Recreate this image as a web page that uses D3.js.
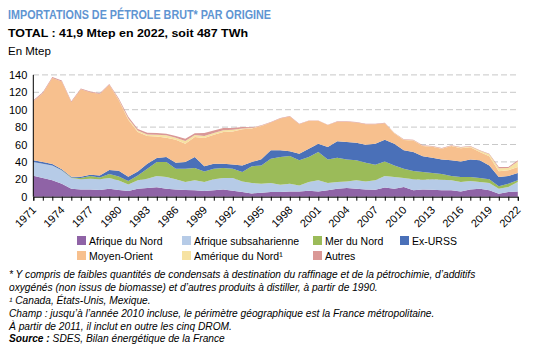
<!DOCTYPE html>
<meta charset="utf-8">
<style>
    body { margin: 0; background: #fff; }
    svg { font-family: "Liberation Sans", Arial, sans-serif; }
    .grid line { stroke: #c8c8c8; stroke-dasharray: 6,3; }
    .axis path, .axis line { stroke: #000; }
    .axis text { font-size: 11px; fill: #000; }
    .legend text { font-size: 10.5px; }
    .note { font-size: 10.2px; font-style: italic; }
</style>
<svg width="536" height="351"></svg>
<script src="https://d3js.org/d3.v7.min.js"></script>
<script>

    var years = [1971, 1972, 1973, 1974, 1975, 1976, 1977, 1978, 1979, 1980,
        1981, 1982, 1983, 1984, 1985, 1986, 1987, 1988, 1989, 1990,
        1991, 1992, 1993, 1994, 1995, 1996, 1997, 1998, 1999, 2000,
        2001, 2002, 2003, 2004, 2005, 2006, 2007, 2008, 2009, 2010,
        2011, 2012, 2013, 2014, 2015, 2016, 2017, 2018, 2019, 2020,
        2021, 2022];

    // Mtep
    var afriqueNord = [24, 21.5, 19, 15, 9, 8.4, 8.4, 7.7, 9.2, 7.7,
        6.5, 9.2, 10, 11, 9.2, 8.4, 7.7, 7.3, 6.5, 7.3,
        8.4, 6.9, 5.4, 3.8, 4.6, 5.4, 5.4, 6.1, 6.1, 6.9,
        6.1, 7.3, 9.2, 10, 9.2, 8.4, 8, 10.7, 9.2, 11.1,
        7.3, 8.4, 8, 7.3, 7.3, 6.1, 8.4, 9.2, 7.3, 3.4,
        5.4, 6.1];
    var afriqueSub = [16, 16.5, 17, 15, 12.5, 11.6, 12.3, 12.3, 12.3, 11,
        7.5, 9.6, 10.7, 12.8, 13.4, 11.6, 9.2, 11.5, 10.4, 12.7,
        13.1, 14.6, 12.2, 11.9, 10.4, 10.3, 8.4, 8.9, 6.9, 10,
        12.7, 8.4, 7.7, 7.6, 9.6, 9.2, 10.8, 13.1, 13.4, 10.4,
        12.7, 11.1, 12, 12.2, 11.5, 10.8, 9.6, 7.7, 8.4, 5.8,
        5.7, 10.8];
    var merNord = [0, 0, 0, 0.5, 0.5, 1.5, 3, 2, 4.5, 4.6,
        4, 5.7, 11.3, 16, 17.2, 12, 15.1, 14.2, 12.1, 12,
        11.5, 10.5, 10.8, 19.2, 21, 28, 31.8, 31.7, 28.8, 28.7,
        32.5, 27.2, 27.9, 25.3, 23, 21.4, 18, 16.8, 13.4, 10.5,
        9.5, 8.9, 7.2, 6.5, 5, 5.7, 4.6, 4.6, 4.3, 2.7,
        3.9, 1.9];
    var exUrss = [1.8, 2, 1.5, 1, 1, 1.5, 1.5, 2.5, 4.6, 6.6,
        5, 4.5, 6, 4.6, 5.8, 7, 8, 12.5, 6, 6,
        5, 5, 7.6, 4.9, 7, 9.6, 7.7, 5.4, 7.6, 9.6,
        9.6, 14.2, 18.8, 19.9, 20.2, 20.8, 24.2, 24.9, 25, 21.3,
        21.8, 18, 17.6, 16.9, 18, 18, 20.3, 20.3, 16, 10.7,
        8.8, 8.4];
    var moyenOrient = [68, 79, 99, 101, 85.6, 100.5, 94.8, 93.5, 98, 81,
        65.5, 45.3, 31.7, 24.9, 22.2, 26.5, 21, 23, 32.4, 33.3,
        36.4, 38, 41.4, 38.7, 38.2, 32, 36.6, 40.1, 34, 32,
        26.3, 25.2, 22.5, 23.3, 23.3, 23.6, 22.4, 19, 11.8, 11.8,
        13.4, 11.8, 12.6, 12.3, 16.4, 15.1, 13.8, 9.5, 10.4, 6.6,
        6.5, 6.9];
    var ameriqueNord = [0, 0, 0, 0, 0, 0, 0, 0, 0, 0.5,
        1.5, 1.9, 1.9, 2, 2.7, 2.3, 3, 2.5, 2.3, 1.9,
        1.9, 2, 1, 0.5, 0.3, 0, 0, 0, 0, 0,
        0, 0, 0, 0, 0, 0, 0, 0, 0.3, 0.3,
        0.3, 0.3, 0.3, 0.3, 0.3, 0.8, 1, 1.5, 2.5, 3.5,
        2.7, 6.5];
    var autres = [1, 1, 1, 1, 1, 1, 1, 1, 1, 1.5,
        2, 1.5, 2, 1.9, 1.9, 1.9, 2.7, 2, 3.5, 3,
        2.7, 2, 1.6, 0.7, 0.5, 0.5, 0.5, 0.5, 0.5, 0.5,
        0.5, 0.5, 0.5, 0.5, 0.5, 0.5, 0.5, 0.5, 0.5, 0.5,
        0.5, 0.5, 0.5, 0.5, 0.5, 0.5, 0.5, 0.5, 0.5, 1.4,
        1, 1.3];

    var seriesNames = ["Afrique du Nord", "Afrique subsaharienne", "Mer du Nord", "Ex-URSS",
        "Moyen-Orient", "Amérique du Nord¹", "Autres"];
    var seriesValues = [afriqueNord, afriqueSub, merNord, exUrss, moyenOrient, ameriqueNord, autres];
    var colors = ["#8f63a6", "#b6cbe7", "#9bbb59", "#4a70b8", "#f7c08e", "#f6e2a2", "#da9896"];
    var yTicks = [0, 20, 40, 60, 80, 100, 120, 140];

    var svg = d3.select("svg");

    // table for d3.stack
    var table = years.map(function (y, i) {
        var row = { year: y };
        seriesValues.forEach(function (s, k) { row[k] = s[i]; });
        return row;
    });
    var stack = d3.stack().keys(d3.range(seriesNames.length));
    var layers = stack(table);

    var x = d3.scaleLinear().domain([1971, 2022]).range([33.3, 517.8]);
    var y = d3.scaleLinear().domain([0, 140]).range([196.7, 74.9]);

    // titles
    svg.append("text").attr("x", 8).attr("y", 19.3)
        .attr("textLength", 263).attr("lengthAdjust", "spacingAndGlyphs")
        .style("font-size", "12px").style("font-weight", "bold").style("fill", "#5f95d2")
        .text("IMPORTATIONS DE PÉTROLE BRUT* PAR ORIGINE");
    svg.append("text").attr("x", 8).attr("y", 37.3)
        .attr("textLength", 240).attr("lengthAdjust", "spacingAndGlyphs")
        .style("font-size", "11.5px").style("font-weight", "bold")
        .text("TOTAL : 41,9 Mtep en 2022, soit 487 TWh");
    svg.append("text").attr("x", 8).attr("y", 55)
        .style("font-size", "11.5px")
        .text("En Mtep");

    // dashed grid
    svg.append("g").attr("class", "grid")
        .selectAll("line").data(yTicks.slice(1)).enter().append("line")
        .attr("x1", 33).attr("x2", 518)
        .attr("y1", function (d) { return y(d); })
        .attr("y2", function (d) { return y(d); });

    var area = d3.area()
        .x(function (d) { return x(d.data.year); })
        .y0(function (d) { return y(d[0]); })
        .y1(function (d) { return y(d[1]); });

    svg.append("g").selectAll("path").data(layers).enter().append("path")
        .attr("d", area)
        .attr("fill", function (d, i) { return colors[i]; });

    // y axis
    var yAxis = svg.append("g").attr("class", "axis")
        .attr("transform", "translate(33.3,0)")
        .call(d3.axisLeft(y).tickValues(yTicks).tickSize(0).tickPadding(6));
    yAxis.select(".domain").attr("d", "M0," + y(140) + "V" + y(0));

    // x axis
    var xAxis = svg.append("g").attr("class", "axis")
        .attr("transform", "translate(0," + y(0) + ")")
        .call(d3.axisBottom(x).tickValues(years).tickSizeOuter(0).tickSize(4)
            .tickFormat(function (d) { return (d - 1971) % 3 === 0 ? d : ""; }));
    xAxis.selectAll("text")
        .attr("text-anchor", "end")
        .attr("dy", null)
        .attr("y", 0)
        .attr("transform", "translate(3,14) rotate(-45)");

    // legend
    var legendPos = [[77, 236], [182, 236], [313, 236], [400, 236],
        [77, 251], [182, 251], [313, 251]];
    var legend = svg.append("g").attr("class", "legend")
        .selectAll("g").data(seriesNames).enter().append("g")
        .attr("transform", function (d, i) { return "translate(" + legendPos[i][0] + "," + legendPos[i][1] + ")"; });
    legend.append("rect").attr("width", 9).attr("height", 9)
        .attr("fill", function (d, i) { return colors[i]; });
    legend.append("text").attr("x", 12).attr("y", 8.5).text(function (d) { return d; });

    // notes
    var notes = [
        "* Y compris de faibles quantités de condensats à destination du raffinage et de la pétrochimie, d’additifs",
        "oxygénés (non issus de biomasse) et d’autres produits à distiller, à partir de 1990.",
        "¹ Canada, États-Unis, Mexique.",
        "Champ : jusqu’à l’année 2010 incluse, le périmètre géographique est la France métropolitaine.",
        "À partir de 2011, il inclut en outre les cinq DROM."
    ];
    var noteY = [278, 291, 304, 317, 329.5];
    svg.append("g").selectAll("text").data(notes).enter().append("text")
        .attr("class", "note")
        .attr("x", 9)
        .attr("y", function (d, i) { return noteY[i]; })
        .text(function (d) { return d; });

    var src = svg.append("text").attr("class", "note").attr("x", 9).attr("y", 342);
    src.append("tspan").style("font-weight", "bold").text("Source :");
    src.append("tspan").text(" SDES, Bilan énergétique de la France");

</script>
